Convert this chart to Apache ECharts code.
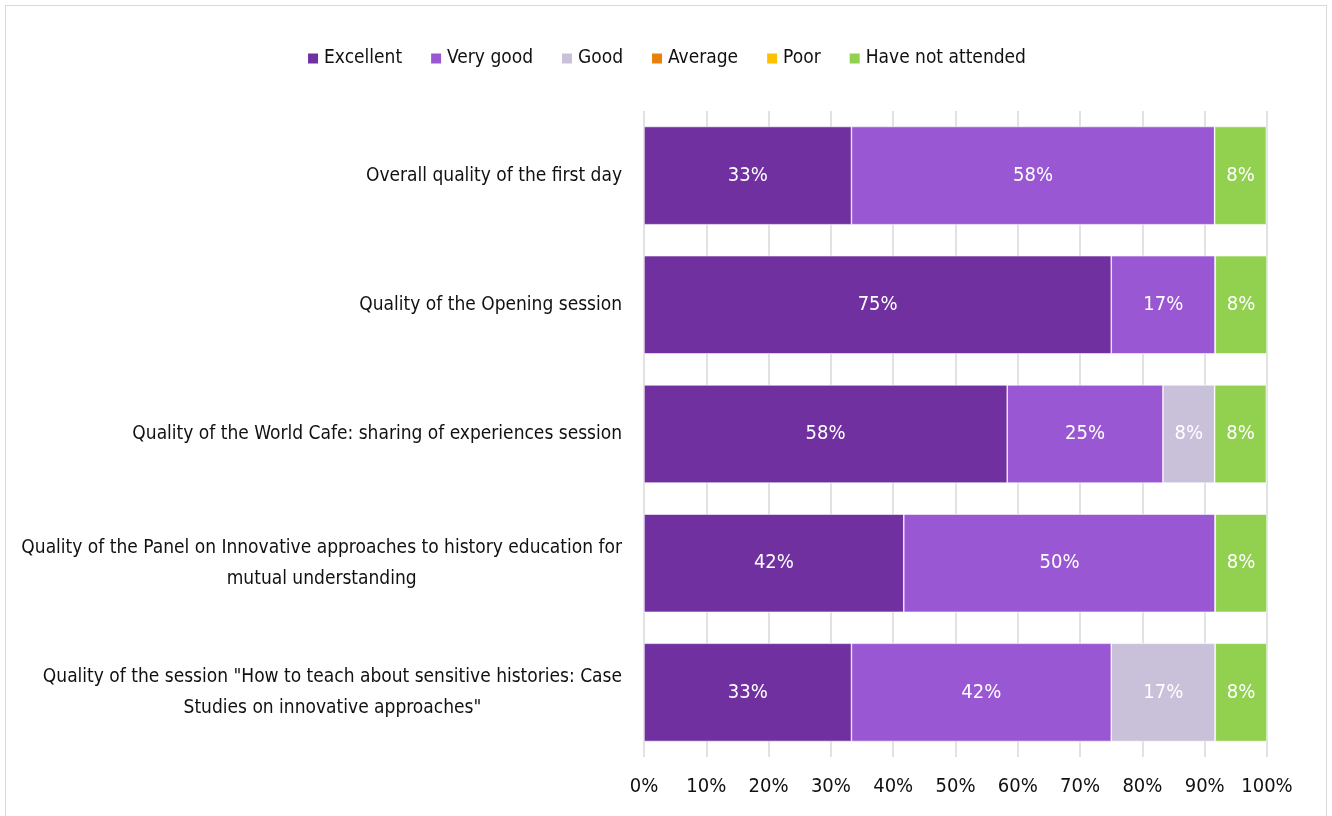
<!DOCTYPE html>
<html>
<head>
<meta charset="utf-8">
<script src="https://cdn.jsdelivr.net/npm/echarts@6/dist/echarts.min.js"></script>
<style>
html,body{margin:0;padding:0;background:#fff;}
#frame{position:absolute;left:5px;top:5px;width:1322px;height:830px;border:1.5px solid #d9d9d9;box-sizing:border-box;}
#chart{position:absolute;left:0;top:0;width:1332px;height:816px;}
</style>
</head>
<body>
<div id="frame"></div>
<div id="chart"></div>
<script>
const categories = [
  'Overall quality of the first day',
  'Quality of the Opening session',
  'Quality of the World Cafe: sharing of experiences session',
  'Quality of the Panel on Innovative approaches to history education for\nmutual understanding',
  'Quality of the session "How to teach about sensitive histories: Case\nStudies on innovative approaches"'
];
const seriesNames = ['Excellent', 'Very good', 'Good', 'Average', 'Poor', 'Have not attended'];
const excellent = [33.3, 75.0, 58.3, 41.7, 33.3];
const veryGood = [58.3, 16.7, 25.0, 50.0, 41.7];
const good = [0, 0, 8.3, 0, 16.7];
const average = [0, 0, 0, 0, 0];
const poor = [0, 0, 0, 0, 0];
const notAttended = [8.3, 8.3, 8.3, 8.3, 8.3];
const xTicks = [0, 10, 20, 30, 40, 50, 60, 70, 80, 90, 100];

const colors = ['#7030A0', '#9A57D3', '#C9C0DA', '#E8800A', '#FFC000', '#92D050'];
const seriesData = [excellent, veryGood, good, average, poor, notAttended];
const FONT = '"Liberation Sans Narrow", "Arial Narrow", "DejaVu Sans Condensed", sans-serif';

const chart = echarts.init(document.getElementById('chart'));
chart.setOption({
  animation: false,
  color: colors,
  textStyle: { fontFamily: FONT },
  legend: {
    top: 44,
    left: 'center',
    itemWidth: 12,
    itemHeight: 12,
    itemGap: 27,
    icon: 'rect',
    textStyle: { fontFamily: FONT, fontSize: 19, color: '#111' },
    data: seriesNames
  },
  grid: { left: 644, right: 65, top: 111, bottom: 59, containLabel: false, outerBoundsMode: 'none' },
  xAxis: {
    type: 'value',
    min: 0, max: 100, interval: 10,
    axisLine: { show: false },
    axisTick: { show: false },
    splitLine: { show: true, lineStyle: { color: '#d9d9d9', width: 1.5 } },
    axisLabel: {
      fontFamily: FONT, fontSize: 20, color: '#111', margin: 20,
      formatter: v => (xTicks.indexOf(v) >= 0 ? v + '%' : '')
    }
  },
  yAxis: {
    type: 'category',
    inverse: true,
    data: categories,
    axisLine: { show: false },
    axisTick: { show: false },
    axisLabel: {
      fontFamily: FONT, fontSize: 19, color: '#111', margin: 22,
      lineHeight: 31,
      align: 'right',
      formatter: v => v.split('\n').map(l => '{c|' + l + '}').join('\n'),
      rich: { c: { align: 'center', fontFamily: FONT, fontSize: 19, color: '#111', lineHeight: 31 } }
    }
  },
  series: seriesNames.map((name, i) => ({
    name: name,
    type: 'bar',
    stack: 'total',
    barCategoryGap: '24%',
    data: seriesData[i],
    itemStyle: { color: colors[i], borderColor: '#ffffff', borderWidth: 0.6 },
    label: {
      show: true,
      position: 'inside',
      color: '#fff',
      fontFamily: FONT,
      fontSize: 20,
      formatter: p => (p.value > 0 ? Math.round(p.value) + '%' : '')
    }
  }))
});
</script>
</body>
</html>
